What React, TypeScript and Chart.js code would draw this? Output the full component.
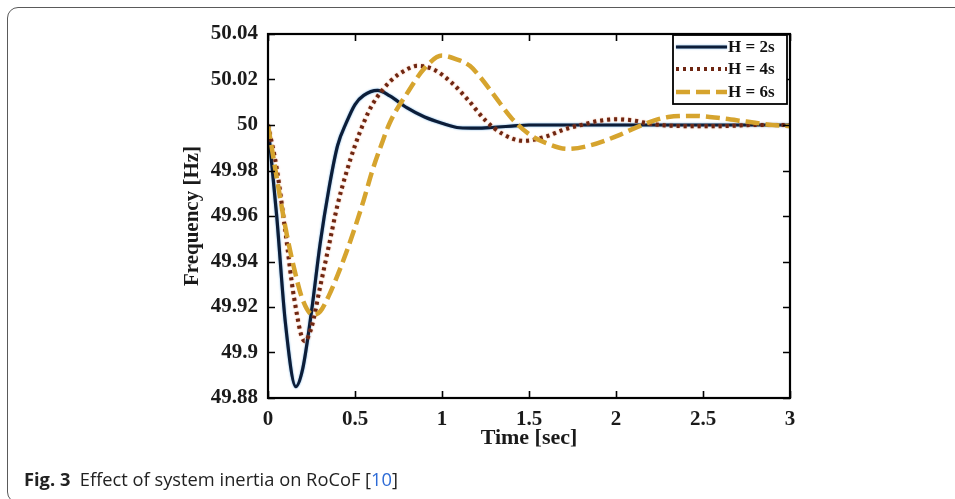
import React, { useEffect, useRef } from "react";
import { Chart, registerables } from "chart.js";

Chart.register(...registerables);

// ---- data ----
const seriesLabels = ["H = 2s", "H = 4s", "H = 6s"];

const timeH2 = [0, 0.05, 0.1, 0.16, 0.2, 0.25, 0.3, 0.35, 0.4, 0.45, 0.5, 0.55, 0.63, 0.7, 0.8, 0.9, 1.0, 1.1, 1.2, 1.3, 1.4, 1.5, 2.0, 2.5, 3.0];
const freqH2 = [50.0, 49.96, 49.913, 49.885, 49.893, 49.918, 49.948, 49.972, 49.991, 50.001, 50.009, 50.013, 50.0152, 50.0128, 50.0075, 50.0035, 50.0008, 49.9988, 49.9986, 49.999, 49.9995, 50.0, 50.0, 50.0, 50.0];

const timeH4 = [0, 0.05, 0.1, 0.15, 0.21, 0.25, 0.3, 0.35, 0.4, 0.45, 0.5, 0.55, 0.6, 0.7, 0.8, 0.86, 0.95, 1.05, 1.15, 1.25, 1.35, 1.47, 1.6, 1.7, 1.8, 1.9, 2.0, 2.1, 2.2, 2.4, 2.6, 2.8, 3.0];
const freqH4 = [50.0, 49.981, 49.953, 49.924, 49.905, 49.911, 49.929, 49.947, 49.965, 49.979, 49.991, 50.001, 50.009, 50.019, 50.0245, 50.026, 50.0245, 50.019, 50.011, 50.002, 49.996, 49.993, 49.995, 49.998, 50.0, 50.0018, 50.0025, 50.002, 50.0005, 49.9995, 49.9995, 50.0, 50.0];

const timeH6 = [0, 0.05, 0.1, 0.15, 0.2, 0.26, 0.3, 0.35, 0.4, 0.45, 0.5, 0.55, 0.6, 0.65, 0.7, 0.8, 0.9, 1.0, 1.08, 1.16, 1.22, 1.3, 1.4, 1.5, 1.6, 1.72, 1.85, 2.0, 2.15, 2.3, 2.45, 2.6, 2.75, 2.9, 3.0];
const freqH6 = [50.0, 49.977, 49.955, 49.937, 49.923, 49.9165, 49.918, 49.925, 49.934, 49.944, 49.955, 49.967, 49.98, 49.991, 50.001, 50.014, 50.025, 50.0305, 50.029, 50.026, 50.021, 50.013, 50.003, 49.996, 49.992, 49.9895, 49.991, 49.995, 50.0, 50.0035, 50.004, 50.003, 50.0015, 50.0, 49.9995];

const xTickStep = 0.5;
const xMin = 0;
const xMax = 3;
const yTickStep = 0.02;
const yMin = 49.88;
const yMax = 50.04;

const xTitle = "Time [sec]";
const yTitle = "Frequency [Hz]";

const colors = ["#0c1d38", "#6e2612", "#d6a42e"];
const dashes: number[][] = [[], [3, 4], [14, 6]];
const widths = [3.2, 4, 4.5];

const serif = "'Liberation Serif', 'Times New Roman', serif";

const toPoints = (t: number[], v: number[]) => t.map((tt, i) => ({ x: tt, y: v[i] }));

const matlabPlugin = {
  id: "matlabFrame",
  beforeDatasetDraw(chart: any, args: any) {
    const ctx = chart.ctx;
    ctx.save();
    if (args.index === 0) {
      ctx.shadowColor = "rgba(90,160,220,0.9)";
      ctx.shadowBlur = 2;
    } else if (args.index === 1) {
      ctx.shadowColor = "rgba(220,110,60,0.8)";
      ctx.shadowBlur = 1.5;
    }
  },
  afterDatasetDraw(chart: any) {
    chart.ctx.restore();
  },
  afterDatasetsDraw(chart: any) {
    const { ctx, chartArea: a, scales } = chart;
    const x = scales.x;
    const y = scales.y;
    ctx.save();
    ctx.strokeStyle = "#000";
    ctx.lineWidth = 1.6;
    const tl = 7;
    ctx.beginPath();
    x.ticks.forEach((t: any) => {
      const px = Math.round(x.getPixelForValue(t.value)) + 0.5;
      ctx.moveTo(px, a.bottom);
      ctx.lineTo(px, a.bottom - tl);
      ctx.moveTo(px, a.top);
      ctx.lineTo(px, a.top + tl);
    });
    y.ticks.forEach((t: any) => {
      const py = Math.round(y.getPixelForValue(t.value)) + 0.5;
      ctx.moveTo(a.left, py);
      ctx.lineTo(a.left + tl, py);
      ctx.moveTo(a.right, py);
      ctx.lineTo(a.right - tl, py);
    });
    ctx.stroke();
    ctx.lineWidth = 2.2;
    ctx.strokeRect(a.left, a.top, a.right - a.left, a.bottom - a.top);

    // legend box (inside top-right corner)
    const bw = 114;
    const bh = 69;
    const bx = a.right - 3 - bw;
    const by = a.top + 1;
    ctx.fillStyle = "#fff";
    ctx.fillRect(bx, by, bw, bh);
    ctx.lineWidth = 1.8;
    ctx.strokeStyle = "#000";
    ctx.strokeRect(bx, by, bw, bh);
    const rowY = [by + 12, by + 34, by + 57];
    chart.data.datasets.forEach((ds: any, i: number) => {
      const ly = rowY[i];
      ctx.save();
      if (i === 0) {
        ctx.shadowColor = "rgba(90,160,220,0.9)";
        ctx.shadowBlur = 2;
      }
      ctx.strokeStyle = ds.borderColor;
      ctx.lineWidth = ds.borderWidth;
      ctx.setLineDash(ds.borderDash || []);
      ctx.beginPath();
      ctx.moveTo(bx + 3, ly);
      ctx.lineTo(bx + 54, ly);
      ctx.stroke();
      ctx.restore();
      ctx.fillStyle = "#111";
      ctx.font = `bold 17px ${serif}`;
      ctx.textBaseline = "middle";
      ctx.textAlign = "left";
      ctx.fillText(ds.label, bx + 55, ly + 1);
    });
    ctx.restore();
  },
};

const fmt = (v: number) => String(Number(Number(v).toFixed(2)));

export default function App() {
  const canvasRef = useRef<HTMLCanvasElement | null>(null);

  useEffect(() => {
    if (!canvasRef.current) return;
    const series = [
      toPoints(timeH2, freqH2),
      toPoints(timeH4, freqH4),
      toPoints(timeH6, freqH6),
    ];
    const chart = new Chart(canvasRef.current, {
      type: "line",
      data: {
        datasets: series.map((pts, i) => ({
          label: seriesLabels[i],
          data: pts,
          borderColor: colors[i],
          backgroundColor: colors[i],
          borderWidth: widths[i],
          borderDash: dashes[i],
          pointRadius: 0,
          fill: false,
          cubicInterpolationMode: "monotone" as const,
          order: 2 - i,
        })),
      },
      options: {
        animation: false,
        responsive: false,
        layout: { padding: { left: 178, top: 34, right: 165, bottom: 46 } },
        plugins: {
          legend: { display: false },
          tooltip: { enabled: false },
        },
        scales: {
          x: {
            type: "linear",
            min: xMin,
            max: xMax,
            grid: { display: false, drawTicks: false },
            border: { display: false },
            ticks: {
              stepSize: xTickStep,
              padding: 9,
              color: "#1a1a1a",
              font: { family: serif, size: 21, weight: "bold" },
              maxRotation: 0,
              callback: (v: any) => fmt(v),
            },
            title: {
              display: true,
              text: xTitle,
              color: "#1a1a1a",
              font: { family: serif, size: 22, weight: "bold" },
              padding: { top: 0, bottom: 1 },
            },
            afterFit: (s: any) => {
              s.height = 55;
            },
          },
          y: {
            type: "linear",
            min: yMin,
            max: yMax,
            grid: { display: false, drawTicks: false },
            border: { display: false },
            ticks: {
              stepSize: yTickStep,
              padding: 10,
              color: "#1a1a1a",
              font: { family: serif, size: 21, weight: "bold" },
              callback: (v: any) => fmt(v),
            },
            title: {
              display: true,
              text: yTitle,
              color: "#1a1a1a",
              font: { family: serif, size: 21, weight: "bold" },
              padding: { top: 2, bottom: 0 },
            },
            afterFit: (s: any) => {
              s.width = 90;
            },
          },
        },
      },
      plugins: [matlabPlugin],
    });
    return () => chart.destroy();
  }, []);

  return (
    <div
      style={{
        position: "absolute",
        left: 0,
        top: 0,
        width: 955,
        height: 499,
        overflow: "hidden",
        background: "#fff",
      }}
    >
      <div
        style={{
          position: "absolute",
          left: 7,
          top: 7,
          width: 1000,
          height: 496,
          border: "1.5px solid #5a5a5a",
          borderRadius: 11,
          boxSizing: "border-box",
        }}
      />
      <canvas
        ref={canvasRef}
        width={955}
        height={499}
        style={{ position: "absolute", left: 0, top: 0, width: 955, height: 499 }}
      />
      <div
        style={{
          position: "absolute",
          left: 24,
          top: 466,
          fontFamily: "'Open Sans', 'Noto Sans', sans-serif",
          fontSize: 18.3,
          color: "#222",
          whiteSpace: "nowrap",
          letterSpacing: 0,
        }}
      >
        <span style={{ fontWeight: 700 }}>Fig. 3</span>
        <span>{"\u00a0\u00a0Effect of system inertia on RoCoF ["}</span>
        <span style={{ color: "#2d6bd6" }}>10</span>
        <span>]</span>
      </div>
    </div>
  );
}
